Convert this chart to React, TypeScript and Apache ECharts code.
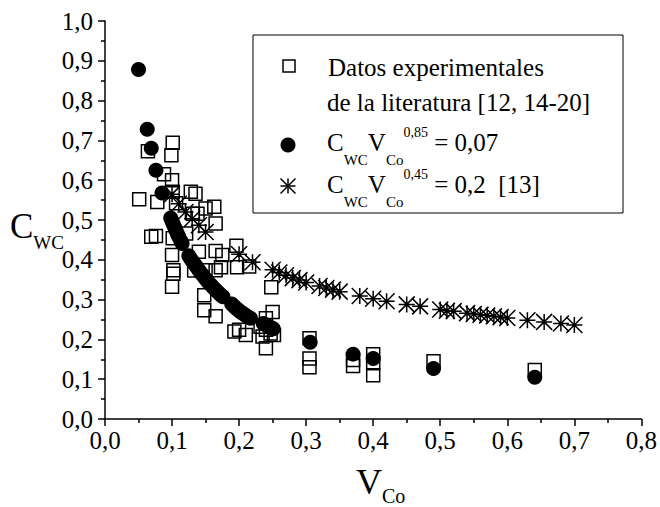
import React, { useEffect, useRef } from 'react';
import * as echarts from 'echarts';

// Experimental data (open squares)
const expData: [number, number][] = [
  [0.051, 0.552], [0.064, 0.673], [0.069, 0.458], [0.076, 0.460], [0.078, 0.545],
  [0.088, 0.615], [0.099, 0.663], [0.101, 0.694], [0.100, 0.600], [0.101, 0.571],
  [0.106, 0.542], [0.101, 0.454], [0.100, 0.412], [0.102, 0.374], [0.102, 0.365],
  [0.100, 0.332], [0.121, 0.466], [0.128, 0.571], [0.135, 0.566], [0.131, 0.516],
  [0.138, 0.516], [0.150, 0.529], [0.163, 0.533], [0.165, 0.491], [0.140, 0.420],
  [0.133, 0.373], [0.150, 0.374], [0.165, 0.374], [0.165, 0.422], [0.175, 0.412],
  [0.173, 0.381], [0.148, 0.311], [0.148, 0.273], [0.165, 0.258], [0.196, 0.435],
  [0.197, 0.381], [0.215, 0.383], [0.193, 0.220], [0.200, 0.224], [0.210, 0.211],
  [0.248, 0.331], [0.250, 0.269], [0.240, 0.253], [0.240, 0.224], [0.232, 0.232],
  [0.235, 0.207], [0.240, 0.178], [0.247, 0.215], [0.252, 0.211], [0.305, 0.203],
  [0.305, 0.152], [0.305, 0.130], [0.370, 0.148], [0.370, 0.133], [0.400, 0.163],
  [0.400, 0.140], [0.400, 0.110], [0.490, 0.145], [0.641, 0.123],
];

// C_WC V_Co^0,85 = 0,07 (filled circles)
const fit085: [number, number][] = [
  [0.050, 0.878], [0.063, 0.728], [0.069, 0.680], [0.076, 0.625], [0.085, 0.568],
  [0.098, 0.505], [0.100, 0.497], [0.102, 0.489], [0.104, 0.481], [0.106, 0.473],
  [0.108, 0.465], [0.110, 0.458], [0.113, 0.448], [0.115, 0.441], [0.125, 0.410],
  [0.128, 0.402], [0.131, 0.395], [0.134, 0.388], [0.137, 0.381], [0.140, 0.374],
  [0.143, 0.367], [0.146, 0.361], [0.149, 0.354], [0.152, 0.348], [0.155, 0.342],
  [0.158, 0.337], [0.161, 0.331], [0.164, 0.326], [0.167, 0.321], [0.170, 0.316],
  [0.173, 0.311], [0.176, 0.307], [0.189, 0.289], [0.192, 0.284], [0.195, 0.279],
  [0.198, 0.275], [0.201, 0.271], [0.204, 0.267], [0.207, 0.264], [0.210, 0.260],
  [0.213, 0.257], [0.217, 0.253], [0.236, 0.240], [0.240, 0.236], [0.244, 0.233],
  [0.248, 0.229], [0.251, 0.227], [0.306, 0.193], [0.370, 0.163], [0.400, 0.152],
  [0.490, 0.127], [0.641, 0.105],
];

// C_WC V_Co^0,45 = 0,2 [13] (asterisks)
const fit045: [number, number][] = [
  [0.10, 0.565], [0.11, 0.541], [0.12, 0.520], [0.13, 0.503], [0.14, 0.487],
  [0.15, 0.470], [0.20, 0.414], [0.22, 0.394], [0.25, 0.375], [0.26, 0.368],
  [0.27, 0.361], [0.28, 0.354], [0.29, 0.349], [0.30, 0.343], [0.32, 0.334],
  [0.33, 0.329], [0.34, 0.325], [0.35, 0.320], [0.38, 0.309], [0.40, 0.302],
  [0.42, 0.296], [0.45, 0.288], [0.47, 0.283], [0.50, 0.275], [0.51, 0.272],
  [0.52, 0.271], [0.54, 0.266], [0.55, 0.264], [0.56, 0.262], [0.57, 0.260],
  [0.58, 0.258], [0.59, 0.256], [0.60, 0.254], [0.63, 0.248], [0.655, 0.244],
  [0.68, 0.240], [0.70, 0.236],
];

const legendLine1 = 'Datos experimentales';
const legendLine2 = 'de la literatura [12, 14-20]';

const SERIF = '"Liberation Serif", "Times New Roman", serif';
const STAR = 'path://M0,-10L0,10M-10,0L10,0M-10,-10L10,10M-10,10L10,-10';

const fmt = (v: number) => v.toFixed(1).replace('.', ',');

let measureCtx: CanvasRenderingContext2D | null = null;
function textWidth(s: string, size: number): number {
  if (!measureCtx) measureCtx = document.createElement('canvas').getContext('2d');
  if (!measureCtx) return s.length * size * 0.5;
  measureCtx.font = `${size}px ${SERIF}`;
  return measureCtx.measureText(s).width;
}

type Piece = { t: string; fs: number; dy: number };
function pieces(x0: number, y0: number, list: Piece[]) {
  let x = x0;
  const out: any[] = [];
  for (const p of list) {
    out.push({
      type: 'text',
      x,
      y: y0 + p.dy,
      style: {
        text: p.t,
        fontSize: p.fs,
        fontFamily: SERIF,
        fill: '#000',
        textAlign: 'left',
        align: 'left',
        textVerticalAlign: 'middle',
        verticalAlign: 'middle',
      },
    });
    x += textWidth(p.t, p.fs);
  }
  return out;
}

function starLines(cx: number, cy: number, r: number) {
  const segs = [
    [0, -r, 0, r],
    [-r, 0, r, 0],
    [-r, -r, r, r],
    [-r, r, r, -r],
  ];
  return segs.map((s) => ({
    type: 'line',
    shape: { x1: cx + s[0], y1: cy + s[1], x2: cx + s[2], y2: cy + s[3] },
    style: { stroke: '#000', lineWidth: 1.5 },
  }));
}

export default function App() {
  const ref = useRef<HTMLDivElement>(null);
  useEffect(() => {
    document.body.style.margin = '0';
    if (!ref.current) return;
    const chart = echarts.init(ref.current, undefined, { renderer: 'svg' });

    const axisCommon = {
      type: 'value' as const,
      axisLine: { show: true, onZero: false, lineStyle: { color: '#000', width: 1.5 } },
      axisTick: { show: true, inside: false, length: 7, lineStyle: { color: '#000', width: 1.5 } },
      minorTick: { show: true, splitNumber: 2, length: 4, lineStyle: { color: '#000', width: 1.5 } },
      splitLine: { show: false },
      minorSplitLine: { show: false },
    };

    const graphic: any[] = [
      {
        type: 'rect',
        shape: { x: 253, y: 35, width: 370, height: 178 },
        style: { fill: 'none', stroke: '#000', lineWidth: 1 },
      },
      {
        type: 'rect',
        shape: { x: 283, y: 60, width: 12, height: 12 },
        style: { fill: 'none', stroke: '#000', lineWidth: 1.5 },
      },
      ...pieces(328, 67, [{ t: legendLine1, fs: 25, dy: 0 }]),
      ...pieces(327, 102, [{ t: legendLine2, fs: 25, dy: 0 }]),
      {
        type: 'circle',
        shape: { cx: 288, cy: 145, r: 7.5 },
        style: { fill: '#000', stroke: 'none' },
      },
      ...pieces(327, 142, [
        { t: 'C', fs: 25, dy: 0 },
        { t: 'WC', fs: 15, dy: 18 },
        { t: 'V', fs: 25, dy: 0 },
        { t: 'Co', fs: 15, dy: 18 },
        { t: '0,85', fs: 14, dy: -10 },
        { t: ' = 0,07', fs: 25, dy: 0 },
      ]),
      ...starLines(288, 186, 7.5),
      ...pieces(327, 184, [
        { t: 'C', fs: 25, dy: 0 },
        { t: 'WC', fs: 15, dy: 18 },
        { t: 'V', fs: 25, dy: 0 },
        { t: 'Co', fs: 15, dy: 18 },
        { t: '0,45', fs: 14, dy: -10 },
        { t: ' = 0,2  [13]', fs: 25, dy: 0 },
      ]),
      // axis names
      ...pieces(10, 226, [
        { t: 'C', fs: 35, dy: 0 },
        { t: 'WC', fs: 19, dy: 16 },
      ]),
      ...pieces(356, 482, [
        { t: 'V', fs: 36, dy: 0 },
        { t: 'Co', fs: 20, dy: 14 },
      ]),
    ];

    chart.setOption({
      animation: false,
      backgroundColor: '#fff',
      grid: { left: 105, right: 16, top: 21, bottom: 88, containLabel: false },
      xAxis: {
        ...axisCommon,
        min: 0,
        max: 0.8,
        interval: 0.1,
        axisLabel: { formatter: fmt, fontFamily: SERIF, fontSize: 25, color: '#000', margin: 9 },
      },
      yAxis: {
        ...axisCommon,
        min: 0,
        max: 1,
        interval: 0.1,
        axisLabel: { formatter: fmt, fontFamily: SERIF, fontSize: 25, color: '#000', margin: 12 },
      },
      graphic,
      series: [
        {
          type: 'scatter',
          name: 'exp',
          data: expData,
          symbol: 'rect',
          symbolSize: 13,
          itemStyle: { color: 'rgba(0,0,0,0)', borderColor: '#000', borderWidth: 1.5, opacity: 1 },
          emphasis: { disabled: true },
        },
        {
          type: 'scatter',
          name: 'fit085',
          data: fit085,
          symbol: 'circle',
          symbolSize: 15,
          itemStyle: { color: '#000', opacity: 1 },
          emphasis: { disabled: true },
        },
        {
          type: 'scatter',
          name: 'fit045',
          data: fit045,
          symbol: STAR,
          symbolSize: 16,
          itemStyle: { color: '#000', borderColor: '#000', borderWidth: 1.5, opacity: 1 },
          emphasis: { disabled: true },
        },
      ],
    });
    return () => chart.dispose();
  }, []);
  return <div ref={ref} style={{ width: 660, height: 507 }} />;
}
